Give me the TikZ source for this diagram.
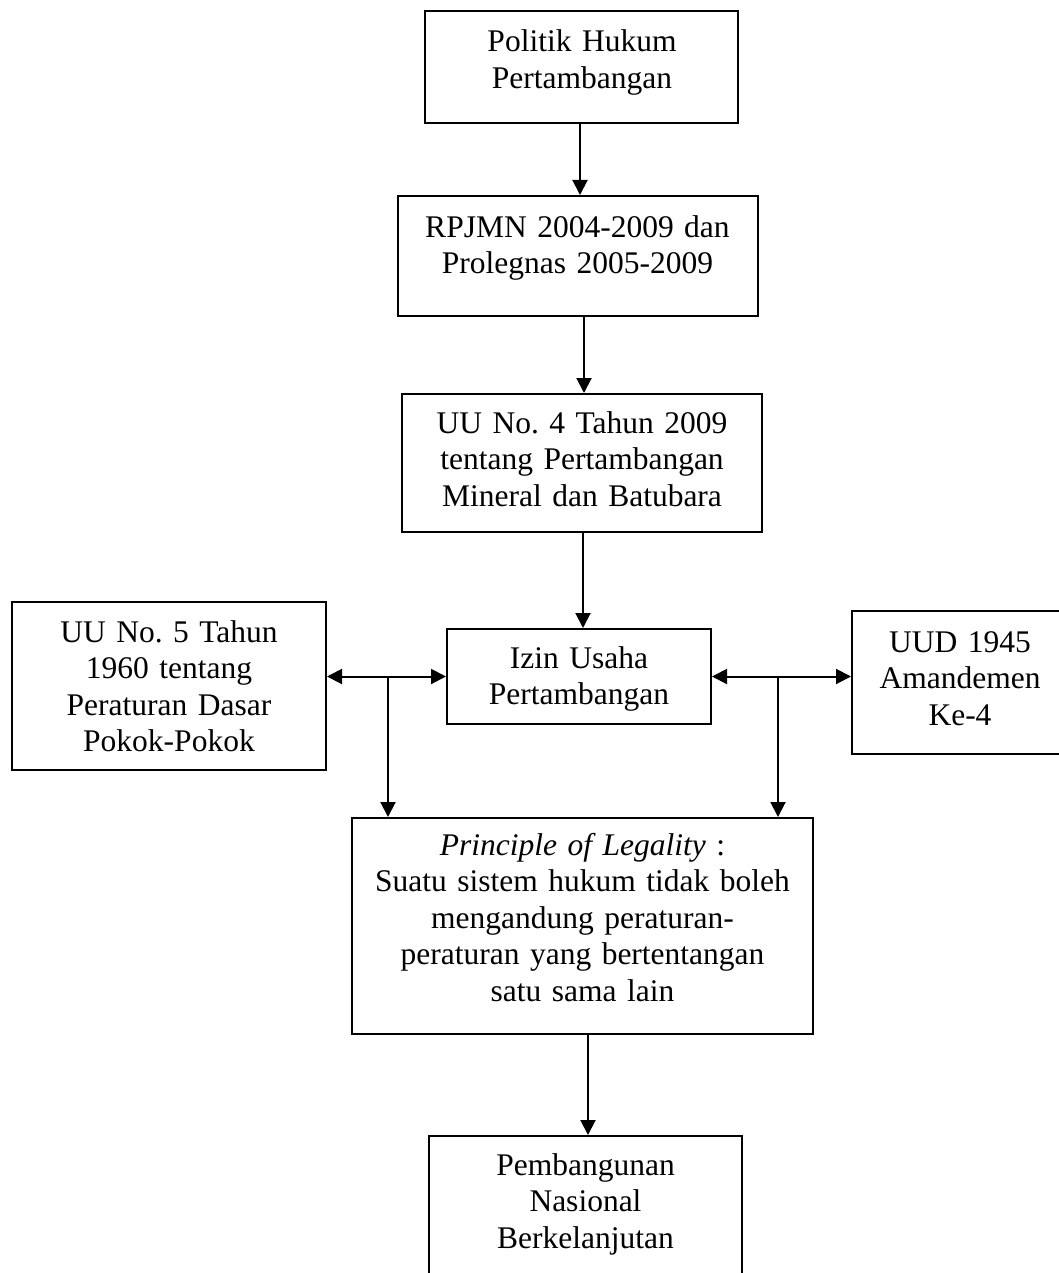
\documentclass[tikz,border=0pt]{standalone}
\usepackage{fontspec}
\setmainfont{Liberation Serif}
\usetikzlibrary{arrows.meta}
\begin{document}
\frenchspacing
\begin{tikzpicture}[x=1pt,y=-1pt,
  box/.style={draw=black,line width=2pt,rectangle,inner sep=0pt,fill=none},
  txt/.style={inner sep=0pt,anchor=base,text width=480pt,align=center,
    font=\fontsize{31.5}{36.5}\selectfont\frenchspacing},
  arr/.style={line width=2pt,-{Triangle[length=15pt,width=15pt]}},
  darr/.style={line width=2pt,{Triangle[length=15pt,width=15pt]}-{Triangle[length=15pt,width=15pt]}},
  ln/.style={line width=2pt}]
\useasboundingbox[fill=white] (0,0) rectangle (1059,1273);

\node[box,minimum width=313pt,minimum height=112pt] (b1) at (581.5,67) {};
\node[txt] (t1) at (582,52) {Politik Hukum\\Pertambangan};

\node[box,minimum width=360pt,minimum height=120pt] (b2) at (578,256) {};
\node[txt] (t2) at (577.5,237) {RPJMN 2004-2009 dan\\Prolegnas 2005-2009};

\node[box,minimum width=360pt,minimum height=138pt] (b3) at (582,463) {};
\node[txt] (t3) at (582,433) {UU No. 4 Tahun 2009\\tentang Pertambangan\\Mineral dan Batubara};

\node[box,minimum width=264pt,minimum height=95pt] (izin) at (579,676.5) {};
\node[txt] (t4) at (579,668) {Izin Usaha\\Pertambangan};

\node[box,minimum width=314pt,minimum height=168pt] (uu5) at (169,686) {};
\node[txt] (t5) at (169,642) {UU No. 5 Tahun\\1960 tentang\\Peraturan Dasar\\Pokok-Pokok};

\node[box,minimum width=216pt,minimum height=143pt] (uud) at (960,682.5) {};
\node[txt] (t6) at (960,652) {UUD 1945\\Amandemen\\Ke-4};

\node[box,minimum width=461pt,minimum height=216pt] (prin) at (582.5,926) {};
\node[txt] (t7) at (582.5,855) {\textit{Principle of Legality} :\\Suatu sistem hukum tidak boleh\\mengandung peraturan-\\peraturan yang bertentangan\\satu sama lain};

\node[box,minimum width=313pt,minimum height=154pt] (pemb) at (585.5,1213) {};
\node[txt] (t8) at (585.5,1175) {Pembangunan\\Nasional\\Berkelanjutan};

\coordinate (jl) at (388,676);
\coordinate (jr) at (778,676);

\draw[arr] (580,0 |- b1.south) -- (580,0 |- b2.north);
\draw[arr] (584,0 |- b2.south) -- (584,0 |- b3.north);
\draw[arr] (583,0 |- b3.south) -- (583,0 |- izin.north);
\draw[darr] (uu5.east |- izin.west) -- (izin.west);
\draw[darr] (izin.east) -- (uud.west |- izin.east);
\draw[arr] (jl) -- (jl |- prin.north);
\draw[arr] (jr) -- (jr |- prin.north);
\draw[arr] (588,0 |- prin.south) -- (588,0 |- pemb.north);
\end{tikzpicture}
\end{document}
